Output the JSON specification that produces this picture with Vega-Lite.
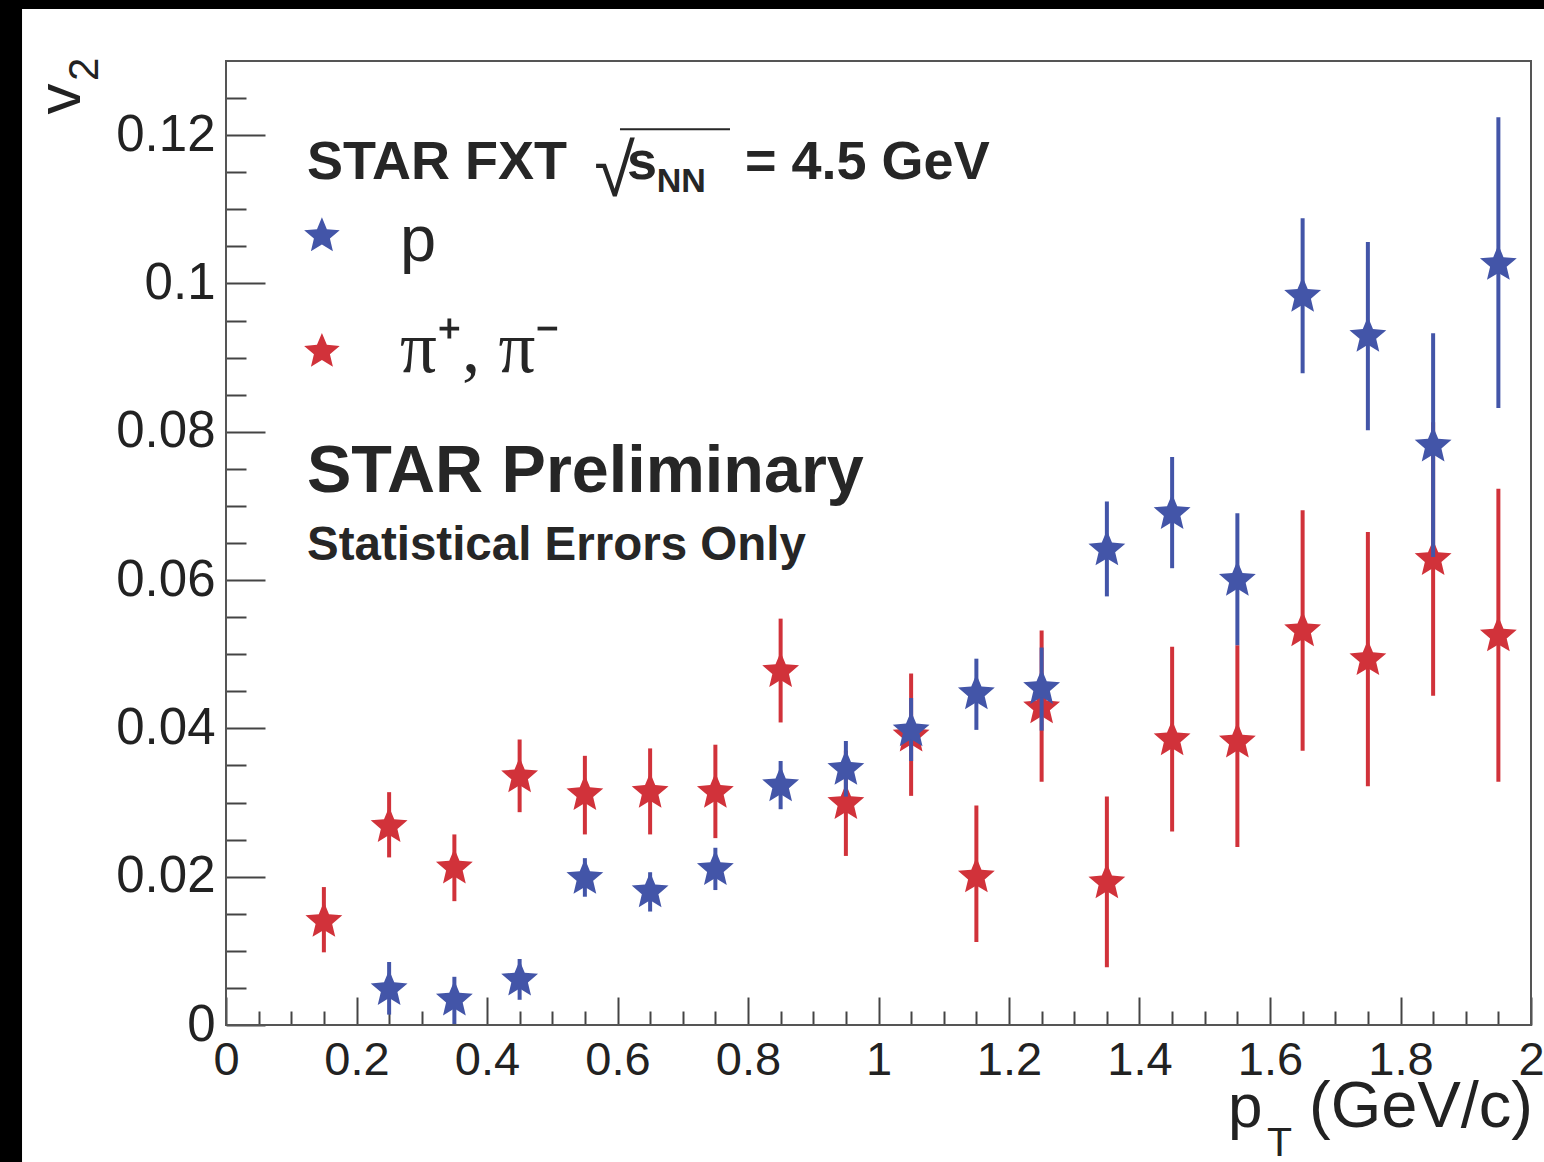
{
  "$schema": "https://vega.github.io/schema/vega-lite/v6.json",
  "width": 1305,
  "height": 964,
  "autosize": {"type": "none"},
  "padding": {"left": 226, "top": 61, "right": 13, "bottom": 137},
  "background": "white",
  "config": {"view": {"stroke": null}, "axis": {"zindex": 1, "grid": false}},
  "resolve": {"axis": {"x": "independent", "y": "independent"}},
  "datasets": {
    "v2": [
      {"pt": 0.25, "v2": 0.0048, "lo": 0.0014, "hi": 0.0085, "s": "p"},
      {"pt": 0.35, "v2": 0.0034, "lo": 0.0, "hi": 0.0065, "s": "p"},
      {"pt": 0.45, "v2": 0.0061, "lo": 0.0034, "hi": 0.0089, "s": "p"},
      {"pt": 0.55, "v2": 0.0198, "lo": 0.0173, "hi": 0.0225, "s": "p"},
      {"pt": 0.65, "v2": 0.0180, "lo": 0.0153, "hi": 0.0206, "s": "p"},
      {"pt": 0.75, "v2": 0.0210, "lo": 0.0182, "hi": 0.0239, "s": "p"},
      {"pt": 0.85, "v2": 0.0323, "lo": 0.0291, "hi": 0.0356, "s": "p"},
      {"pt": 0.95, "v2": 0.0345, "lo": 0.0308, "hi": 0.0383, "s": "p"},
      {"pt": 1.05, "v2": 0.0397, "lo": 0.0356, "hi": 0.0441, "s": "p"},
      {"pt": 1.15, "v2": 0.0447, "lo": 0.0398, "hi": 0.0494, "s": "p"},
      {"pt": 1.25, "v2": 0.0454, "lo": 0.0397, "hi": 0.0509, "s": "p"},
      {"pt": 1.35, "v2": 0.0641, "lo": 0.0578, "hi": 0.0706, "s": "p"},
      {"pt": 1.45, "v2": 0.0690, "lo": 0.0616, "hi": 0.0766, "s": "p"},
      {"pt": 1.55, "v2": 0.0600, "lo": 0.0512, "hi": 0.0690, "s": "p"},
      {"pt": 1.65, "v2": 0.0983, "lo": 0.0879, "hi": 0.1088, "s": "p"},
      {"pt": 1.75, "v2": 0.0929, "lo": 0.0802, "hi": 0.1056, "s": "p"},
      {"pt": 1.85, "v2": 0.0781, "lo": 0.0631, "hi": 0.0933, "s": "p"},
      {"pt": 1.95, "v2": 0.1026, "lo": 0.0832, "hi": 0.1224, "s": "p"},
      {"pt": 0.15, "v2": 0.0140, "lo": 0.0098, "hi": 0.0186, "s": "pi"},
      {"pt": 0.25, "v2": 0.0268, "lo": 0.0226, "hi": 0.0314, "s": "pi"},
      {"pt": 0.35, "v2": 0.0212, "lo": 0.0167, "hi": 0.0257, "s": "pi"},
      {"pt": 0.45, "v2": 0.0335, "lo": 0.0287, "hi": 0.0385, "s": "pi"},
      {"pt": 0.55, "v2": 0.0311, "lo": 0.0257, "hi": 0.0363, "s": "pi"},
      {"pt": 0.65, "v2": 0.0314, "lo": 0.0257, "hi": 0.0373, "s": "pi"},
      {"pt": 0.75, "v2": 0.0314, "lo": 0.0252, "hi": 0.0378, "s": "pi"},
      {"pt": 0.85, "v2": 0.0477, "lo": 0.0408, "hi": 0.0548, "s": "pi"},
      {"pt": 0.95, "v2": 0.0299, "lo": 0.0228, "hi": 0.0370, "s": "pi"},
      {"pt": 1.05, "v2": 0.0390, "lo": 0.0309, "hi": 0.0474, "s": "pi"},
      {"pt": 1.15, "v2": 0.0200, "lo": 0.0112, "hi": 0.0296, "s": "pi"},
      {"pt": 1.25, "v2": 0.0428, "lo": 0.0328, "hi": 0.0532, "s": "pi"},
      {"pt": 1.35, "v2": 0.0192, "lo": 0.0078, "hi": 0.0308, "s": "pi"},
      {"pt": 1.45, "v2": 0.0385, "lo": 0.0261, "hi": 0.0510, "s": "pi"},
      {"pt": 1.55, "v2": 0.0382, "lo": 0.0240, "hi": 0.0512, "s": "pi"},
      {"pt": 1.65, "v2": 0.0532, "lo": 0.0370, "hi": 0.0694, "s": "pi"},
      {"pt": 1.75, "v2": 0.0493, "lo": 0.0322, "hi": 0.0665, "s": "pi"},
      {"pt": 1.85, "v2": 0.0628, "lo": 0.0444, "hi": 0.0813, "s": "pi"},
      {"pt": 1.95, "v2": 0.0525, "lo": 0.0328, "hi": 0.0723, "s": "pi"}
    ],
    "one": [{}]
  },
  "layer": [
    {
      "data": {"name": "v2"},
      "transform": [{"filter": "datum.s === 'pi'"}],
      "mark": {"type": "rule", "color": "#d1323a", "strokeWidth": 4},
      "encoding": {
        "x": {"field": "pt", "type": "quantitative",
          "scale": {"domain": [0, 2], "nice": false, "zero": false},
          "axis": {"orient": "bottom", "domain": false,
            "values": [0, 0.2, 0.4, 0.6, 0.8, 1, 1.2, 1.4, 1.6, 1.8, 2], "format": "~g",
            "tickSize": -28, "tickWidth": 2, "tickColor": "#444",
            "labelFont": "Liberation Sans", "labelFontSize": 47, "labelColor": "#222",
            "labelPadding": 40, "labelFlush": false, "labelOverlap": false, "title": null}},
        "y": {"field": "lo", "type": "quantitative",
          "scale": {"domain": [0, 0.13], "nice": false, "zero": false},
          "axis": {"orient": "left", "domain": false,
            "values": [0, 0.02, 0.04, 0.06, 0.08, 0.1, 0.12], "format": "~g",
            "tickSize": -39, "tickWidth": 2, "tickColor": "#444",
            "labelFont": "Liberation Sans", "labelFontSize": 51, "labelColor": "#222",
            "labelPadding": 50, "labelFlush": false, "labelOverlap": false, "title": null}},
        "y2": {"field": "hi"}
      }
    },
    {
      "data": {"name": "v2"},
      "transform": [{"filter": "datum.s === 'pi'"}],
      "mark": {"type": "point", "shape": "M0,-1L0.2645,-0.364L0.951,-0.309L0.428,0.139L0.588,0.809L0,0.45L-0.588,0.809L-0.428,0.139L-0.951,-0.309L-0.2645,-0.364Z", "filled": true, "size": 1500, "color": "#d1323a", "opacity": 1},
      "encoding": {
        "x": {"field": "pt", "type": "quantitative",
          "axis": {"orient": "bottom", "domain": false, "labels": false, "title": null,
            "values": [0.05, 0.1, 0.15, 0.25, 0.3, 0.35, 0.45, 0.5, 0.55, 0.65, 0.7, 0.75, 0.85, 0.9, 0.95, 1.05, 1.1, 1.15, 1.25, 1.3, 1.35, 1.45, 1.5, 1.55, 1.65, 1.7, 1.75, 1.85, 1.9, 1.95],
            "tickSize": -14, "tickWidth": 2, "tickColor": "#444"}},
        "y": {"field": "v2", "type": "quantitative",
          "axis": {"orient": "left", "domain": false, "labels": false, "title": null,
            "values": [0.005, 0.01, 0.015, 0.025, 0.03, 0.035, 0.045, 0.05, 0.055, 0.065, 0.07, 0.075, 0.085, 0.09, 0.095, 0.105, 0.11, 0.115, 0.125],
            "tickSize": -20, "tickWidth": 2, "tickColor": "#444"}}
      }
    },
    {
      "data": {"name": "v2"},
      "transform": [{"filter": "datum.s === 'p'"}],
      "mark": {"type": "rule", "color": "#4355a8", "strokeWidth": 4},
      "encoding": {
        "x": {"field": "pt", "type": "quantitative", "axis": null},
        "y": {"field": "lo", "type": "quantitative", "axis": null},
        "y2": {"field": "hi"}
      }
    },
    {
      "data": {"name": "v2"},
      "transform": [{"filter": "datum.s === 'p'"}],
      "mark": {"type": "point", "shape": "M0,-1L0.2645,-0.364L0.951,-0.309L0.428,0.139L0.588,0.809L0,0.45L-0.588,0.809L-0.428,0.139L-0.951,-0.309L-0.2645,-0.364Z", "filled": true, "size": 1500, "color": "#4355a8", "opacity": 1},
      "encoding": {
        "x": {"field": "pt", "type": "quantitative", "axis": null},
        "y": {"field": "v2", "type": "quantitative", "axis": null}
      }
    },
    {
      "data": {"name": "one"},
      "mark": {"type": "rect", "fill": "black", "clip": false},
      "encoding": {
        "x": {"datum": -0.35, "type": "quantitative", "axis": null},
        "x2": {"datum": -0.3126},
        "y": {"datum": -0.0185, "type": "quantitative", "axis": null},
        "y2": {"datum": 0.1395}
      }
    },
    {
      "data": {"name": "one"},
      "mark": {"type": "rect", "fill": "black", "clip": false},
      "encoding": {
        "x": {"datum": -0.35, "type": "quantitative", "axis": null},
        "x2": {"datum": 2.03},
        "y": {"datum": 0.137, "type": "quantitative", "axis": null},
        "y2": {"datum": 0.1395}
      }
    },
    {
      "data": {"name": "one"},
      "mark": {"type": "rect", "fill": null, "stroke": "#555", "strokeWidth": 2, "clip": false},
      "encoding": {
        "x": {"datum": 0, "type": "quantitative", "axis": null},
        "x2": {"datum": 2},
        "y": {"datum": 0, "type": "quantitative", "axis": null},
        "y2": {"datum": 0.13}
      }
    },
    {
      "data": {"name": "one"},
      "mark": {"type": "point", "shape": "M0,-1L0.2645,-0.364L0.951,-0.309L0.428,0.139L0.588,0.809L0,0.45L-0.588,0.809L-0.428,0.139L-0.951,-0.309L-0.2645,-0.364Z", "filled": true, "size": 1400, "color": "#4355a8", "opacity": 1},
      "encoding": {"x": {"datum": 0.147, "type": "quantitative", "axis": null}, "y": {"datum": 0.1064, "type": "quantitative", "axis": null}}
    },
    {
      "data": {"name": "one"},
      "mark": {"type": "point", "shape": "M0,-1L0.2645,-0.364L0.951,-0.309L0.428,0.139L0.588,0.809L0,0.45L-0.588,0.809L-0.428,0.139L-0.951,-0.309L-0.2645,-0.364Z", "filled": true, "size": 1400, "color": "#d1323a", "opacity": 1},
      "encoding": {"x": {"datum": 0.147, "type": "quantitative", "axis": null}, "y": {"datum": 0.0908, "type": "quantitative", "axis": null}}
    },
    {
      "data": {"name": "one"},
      "mark": {"type": "text", "text": "STAR FXT", "font": "Liberation Sans", "fontWeight": "bold", "fontSize": 54, "color": "#262626", "align": "left", "baseline": "alphabetic"},
      "encoding": {"x": {"datum": 0.1241, "type": "quantitative", "axis": null}, "y": {"datum": 0.11406, "type": "quantitative", "axis": null}}
    },
    {
      "data": {"name": "one"},
      "mark": {"type": "text", "text": "√", "font": "Liberation Sans", "fontSize": 74, "color": "#262626", "align": "left", "baseline": "alphabetic"},
      "encoding": {"x": {"datum": 0.5645, "type": "quantitative", "axis": null}, "y": {"datum": 0.1118, "type": "quantitative", "axis": null}}
    },
    {
      "data": {"name": "one"},
      "mark": {"type": "rule", "color": "#262626", "strokeWidth": 2},
      "encoding": {"x": {"datum": 0.6038, "type": "quantitative", "axis": null}, "x2": {"datum": 0.7724}, "y": {"datum": 0.1208, "type": "quantitative", "axis": null}}
    },
    {
      "data": {"name": "one"},
      "mark": {"type": "text", "text": "s", "font": "Liberation Sans", "fontWeight": "bold", "fontSize": 54, "color": "#262626", "align": "left", "baseline": "alphabetic"},
      "encoding": {"x": {"datum": 0.6145, "type": "quantitative", "axis": null}, "y": {"datum": 0.11406, "type": "quantitative", "axis": null}}
    },
    {
      "data": {"name": "one"},
      "mark": {"type": "text", "text": "NN", "font": "Liberation Sans", "fontWeight": "bold", "fontSize": 34, "color": "#262626", "align": "left", "baseline": "alphabetic"},
      "encoding": {"x": {"datum": 0.66, "type": "quantitative", "axis": null}, "y": {"datum": 0.1123, "type": "quantitative", "axis": null}}
    },
    {
      "data": {"name": "one"},
      "mark": {"type": "text", "text": "= 4.5 GeV", "font": "Liberation Sans", "fontWeight": "bold", "fontSize": 54, "color": "#262626", "align": "left", "baseline": "alphabetic"},
      "encoding": {"x": {"datum": 0.7954, "type": "quantitative", "axis": null}, "y": {"datum": 0.11406, "type": "quantitative", "axis": null}}
    },
    {
      "data": {"name": "one"},
      "mark": {"type": "text", "text": "p", "font": "Liberation Sans", "fontSize": 65, "color": "#262626", "align": "left", "baseline": "alphabetic"},
      "encoding": {"x": {"datum": 0.2667, "type": "quantitative", "axis": null}, "y": {"datum": 0.1030, "type": "quantitative", "axis": null}}
    },
    {
      "data": {"name": "one"},
      "mark": {"type": "text", "text": "π⁺, π⁻", "font": "Liberation Serif", "fontSize": 73, "color": "#262626", "align": "left", "baseline": "alphabetic"},
      "encoding": {"x": {"datum": 0.2667, "type": "quantitative", "axis": null}, "y": {"datum": 0.0880, "type": "quantitative", "axis": null}}
    },
    {
      "data": {"name": "one"},
      "mark": {"type": "text", "text": "STAR Preliminary", "font": "Liberation Sans", "fontWeight": "bold", "fontSize": 66.5, "color": "#262626", "align": "left", "baseline": "alphabetic"},
      "encoding": {"x": {"datum": 0.1241, "type": "quantitative", "axis": null}, "y": {"datum": 0.07194, "type": "quantitative", "axis": null}}
    },
    {
      "data": {"name": "one"},
      "mark": {"type": "text", "text": "Statistical Errors Only", "font": "Liberation Sans", "fontWeight": "bold", "fontSize": 47.5, "color": "#262626", "align": "left", "baseline": "alphabetic"},
      "encoding": {"x": {"datum": 0.1241, "type": "quantitative", "axis": null}, "y": {"datum": 0.06277, "type": "quantitative", "axis": null}}
    },
    {
      "data": {"name": "one"},
      "mark": {"type": "text", "text": "p", "font": "Liberation Sans", "fontSize": 62, "color": "#222", "align": "left", "baseline": "alphabetic"},
      "encoding": {"x": {"datum": 1.5356, "type": "quantitative", "axis": null}, "y": {"datum": -0.01377, "type": "quantitative", "axis": null}}
    },
    {
      "data": {"name": "one"},
      "mark": {"type": "text", "text": "T", "font": "Liberation Sans", "fontSize": 41, "color": "#222", "align": "left", "baseline": "alphabetic"},
      "encoding": {"x": {"datum": 1.5954, "type": "quantitative", "axis": null}, "y": {"datum": -0.0176, "type": "quantitative", "axis": null}}
    },
    {
      "data": {"name": "one"},
      "mark": {"type": "text", "text": "(GeV/c)", "font": "Liberation Sans", "fontSize": 65, "color": "#222", "align": "right", "baseline": "alphabetic"},
      "encoding": {"x": {"datum": 2.003, "type": "quantitative", "axis": null}, "y": {"datum": -0.01377, "type": "quantitative", "axis": null}}
    },
    {
      "data": {"name": "one"},
      "mark": {"type": "text", "text": "v", "font": "Liberation Sans", "fontSize": 62, "color": "#222", "align": "left", "baseline": "alphabetic", "angle": 270},
      "encoding": {"x": {"datum": -0.2238, "type": "quantitative", "axis": null}, "y": {"datum": 0.1228, "type": "quantitative", "axis": null}}
    },
    {
      "data": {"name": "one"},
      "mark": {"type": "text", "text": "2", "font": "Liberation Sans", "fontSize": 42, "color": "#222", "align": "left", "baseline": "alphabetic", "angle": 270},
      "encoding": {"x": {"datum": -0.1962, "type": "quantitative", "axis": null}, "y": {"datum": 0.1273, "type": "quantitative", "axis": null}}
    }
  ]
}
